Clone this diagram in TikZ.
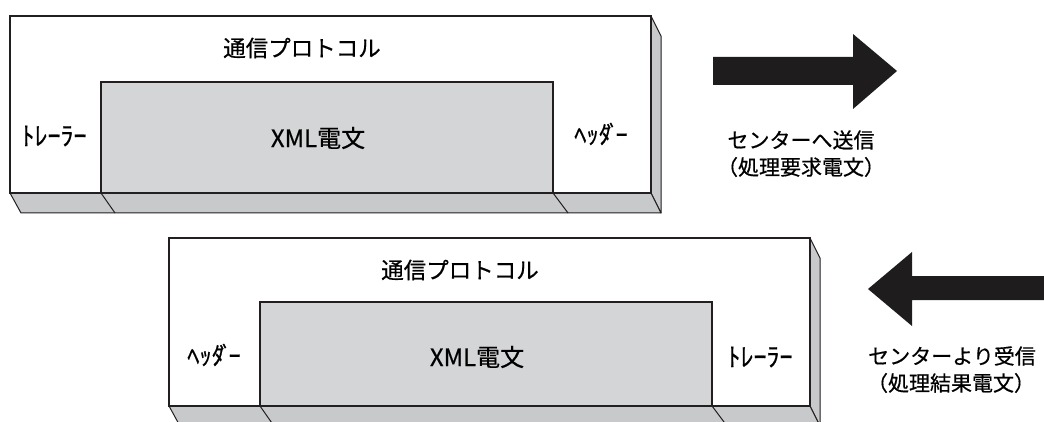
\documentclass[tikz,border=0pt]{standalone}
\usepackage{fontspec}
\setmainfont{Noto Sans CJK JP}[FakeBold=0.6]
\newfontfamily\jpfont{Noto Sans CJK JP}[FakeBold=0.6]
\definecolor{edge}{RGB}{35,31,32}
\definecolor{innerfill}{RGB}{212,213,215}
\definecolor{bevelfill}{RGB}{200,201,203}
\definecolor{arrowfill}{RGB}{30,28,29}
\newcommand{\hwdaku}{ﾀ\kern-0.18emﾞ\kern-0.14em}
\tikzset{
  front/.style={draw=edge, line width=2pt, fill=white},
  inner/.style={draw=edge, line width=2pt, fill=innerfill},
  bevel/.style={draw=edge, line width=1pt, fill=bevelfill, line join=round},
  bigarrow/.style={fill=arrowfill, draw=none},
  title/.style={inner sep=0pt, font=\jpfont\fontsize{22.5}{26}\selectfont},
  xmltext/.style={inner sep=0pt, font=\jpfont\fontsize{24}{28}\selectfont},
  trailer/.style={inner sep=0pt, font=\jpfont\fontsize{26}{30}\selectfont},
  header/.style={inner sep=0pt, font=\jpfont\fontsize{24.5}{28}\selectfont},
  caption/.style={inner sep=0pt, font=\jpfont\fontsize{21}{25}\selectfont, align=center}
}
\begin{document}
\begin{tikzpicture}[x=1pt,y=-1pt]
\useasboundingbox (0,0) rectangle (1044,422);
\begin{scope}
\clip (0,0) rectangle (1044,422);
% ---------- top box ----------
\path[bevel] (651,16) -- (661,36) -- (661,213) -- (651,193) -- cycle;
\path[bevel] (10,193) -- (651,193) -- (661,213) -- (21,213) -- cycle;
\draw[edge, line width=1pt] (101,193) -- (115,213);
\draw[edge, line width=1pt] (553,193) -- (568,213);
\path[front] (10,16) rectangle (651,193);
\path[inner] (101,82) rectangle (553,193);
\node[title] (t1) at (302,48) {通信プロトコル};
\node[xmltext] (x1) at (318,138) {XML電文};
\node[trailer] (tr1) at (54,136) {ﾄﾚｰﾗｰ};
\node[header] (hd1) at (601,134) {ﾍｯ\hwdaku{}ｰ};
% ---------- bottom box ----------
\path[bevel] (810,238) -- (820,258) -- (820,426) -- (810,406) -- cycle;
\path[bevel] (169,406) -- (810,406) -- (820,426) -- (180,426) -- cycle;
\draw[edge, line width=1pt] (260,406) -- (274,426);
\draw[edge, line width=1pt] (712,406) -- (727,426);
\path[front] (169,238) rectangle (810,406);
\path[inner] (260,302) rectangle (712,406);
\node[title] (t2) at (460,270) {通信プロトコル};
\node[xmltext] (x2) at (477,357) {XML電文};
\node[header] (hd2) at (214,355) {ﾍｯ\hwdaku{}ｰ};
\node[trailer] (tr2) at (760,357) {ﾄﾚｰﾗｰ};
% ---------- arrows ----------
\path[bigarrow] (713,57) -- (853,57) -- (853,34) -- (897,71) -- (853,109) -- (853,85) -- (713,85) -- cycle;
\path[bigarrow] (1050,276) -- (912,276) -- (912,252) -- (868,289) -- (912,326) -- (912,300) -- (1050,300) -- cycle;
\end{scope}
\node[caption] (c1a) at (801,140) {センターへ送信};
\node[caption] (c1b) at (801,167) {（処理要求電文）};
\node[caption] (c2a) at (952,356) {センターより受信};
\node[caption] (c2b) at (951,383) {（処理結果電文）};
\end{tikzpicture}
\end{document}
